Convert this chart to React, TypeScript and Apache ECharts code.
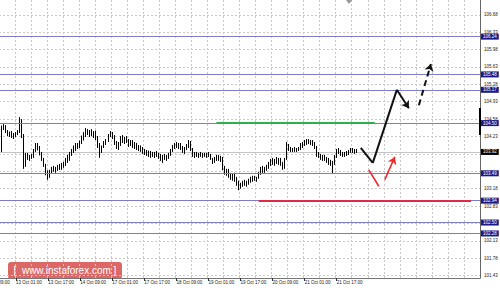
import React, { useEffect, useRef } from "react";
import * as echarts from "echarts";

// ---- data ----
const tickLabels = [
  "12 Oct 09:00", "13 Oct 01:00", "13 Oct 17:00", "14 Oct 09:00", "17 Oct 01:00", "17 Oct 17:00",
  "18 Oct 09:00", "19 Oct 01:00", "19 Oct 17:00", "20 Oct 09:00", "21 Oct 01:00", "21 Oct 17:00",
];
const yTicks = [101.43, 101.78, 102.13, 102.48, 102.83, 103.18, 103.53, 103.88, 104.23, 104.58, 104.93, 105.28, 105.63, 105.98, 106.33, 106.68];
const levelLines = [106.24, 105.48, 105.17, 104.5, 103.49, 102.94, 102.5, 102.28];
const lastPrice = 103.92;
const firstBar = 8;
const BAR_SLOTS = 248;

const opens = [
  104.00, 103.95, 104.40, 104.44, 104.32, 104.28, 104.30, 104.24, 104.26, 104.30, 104.33, 104.55, 104.25, 103.75, 103.85, 103.80, 103.84, 103.82, 103.95, 104.05,
  104.00, 103.88, 103.76, 103.65, 103.50, 103.45, 103.52, 103.58, 103.55, 103.60, 103.62, 103.60, 103.66, 103.68, 103.76, 103.82, 103.88, 103.94,
  104.00, 104.05, 104.02, 104.12, 104.20, 104.28, 104.34, 104.30, 104.32, 104.28, 104.30, 104.20, 104.05, 103.95, 104.02, 104.10, 104.15, 104.25, 104.30, 104.22,
  104.10, 104.02, 104.08, 104.20, 104.14, 104.18, 104.12, 104.10, 104.12, 104.05, 104.06, 104.00, 104.02, 103.96, 103.94, 103.90, 103.92,
  103.86, 103.88, 103.85, 103.90, 103.86, 103.82, 103.78, 103.84, 103.80, 103.84, 103.86, 103.95, 104.02, 104.06, 104.04, 104.08, 104.00, 103.94, 104.00, 104.05,
  104.10, 103.98, 103.86, 103.88, 103.86, 103.88, 103.85, 103.87, 103.86, 103.88, 103.84, 103.78, 103.72, 103.80, 103.82, 103.78, 103.80,
  103.60, 103.50, 103.54, 103.44, 103.40, 103.45, 103.36, 103.28, 103.22, 103.26, 103.30, 103.28, 103.32, 103.35, 103.38, 103.40, 103.37, 103.40, 103.50, 103.58,
  103.55, 103.60, 103.62, 103.70, 103.74, 103.70, 103.76, 103.72, 103.76, 103.68, 103.62, 103.78, 104.05, 103.98, 103.96, 103.98, 103.95, 103.97,
  104.00, 104.06, 104.10, 104.12, 104.14, 104.12, 104.14, 104.08, 104.02, 103.86, 103.84, 103.80, 103.82, 103.78, 103.74, 103.70, 103.68, 103.70, 103.84, 103.95,
  103.92, 103.88, 103.86, 103.90, 103.88, 103.94, 103.96, 103.93, 103.95,
];
const closes = [
  103.92, 104.40, 104.44, 104.32, 104.28, 104.30, 104.24, 104.26, 104.30, 104.33, 104.55, 104.25, 103.75, 103.85, 103.80, 103.84, 103.82, 103.95, 104.05, 104.00,
  103.88, 103.76, 103.65, 103.50, 103.45, 103.52, 103.58, 103.55, 103.60, 103.62, 103.60, 103.66, 103.68, 103.76, 103.82, 103.88, 103.94, 104.00,
  104.05, 104.02, 104.12, 104.20, 104.28, 104.34, 104.30, 104.32, 104.28, 104.30, 104.20, 104.05, 103.95, 104.02, 104.10, 104.15, 104.25, 104.30, 104.22, 104.10,
  104.02, 104.08, 104.20, 104.14, 104.18, 104.12, 104.10, 104.12, 104.05, 104.06, 104.00, 104.02, 103.96, 103.94, 103.90, 103.92, 103.86,
  103.88, 103.85, 103.90, 103.86, 103.82, 103.78, 103.84, 103.80, 103.84, 103.86, 103.95, 104.02, 104.06, 104.04, 104.08, 104.00, 103.94, 104.00, 104.05, 104.10,
  103.98, 103.86, 103.88, 103.86, 103.88, 103.85, 103.87, 103.86, 103.88, 103.84, 103.78, 103.72, 103.80, 103.82, 103.78, 103.80, 103.60,
  103.50, 103.54, 103.44, 103.40, 103.45, 103.36, 103.28, 103.22, 103.26, 103.30, 103.28, 103.32, 103.35, 103.38, 103.40, 103.37, 103.40, 103.50, 103.58, 103.55,
  103.60, 103.62, 103.70, 103.74, 103.70, 103.76, 103.72, 103.76, 103.68, 103.62, 103.78, 104.05, 103.98, 103.96, 103.98, 103.95, 103.97, 104.00,
  104.06, 104.10, 104.12, 104.14, 104.12, 104.14, 104.08, 104.02, 103.86, 103.84, 103.80, 103.82, 103.78, 103.74, 103.70, 103.68, 103.70, 103.84, 103.95, 103.92,
  103.88, 103.86, 103.90, 103.88, 103.94, 103.96, 103.93, 103.95, 103.92,
];
const highs = [
  104.05, 104.45, 104.48, 104.46, 104.36, 104.33, 104.34, 104.30, 104.32, 104.36, 104.62, 104.58, 104.28, 103.90, 103.90, 103.86, 103.88, 103.98, 104.10, 104.10,
  104.04, 103.92, 103.80, 103.68, 103.55, 103.56, 103.62, 103.64, 103.62, 103.66, 103.68, 103.70, 103.72, 103.80, 103.86, 103.92, 103.98, 104.05,
  104.10, 104.10, 104.15, 104.25, 104.32, 104.40, 104.38, 104.36, 104.38, 104.34, 104.35, 104.24, 104.10, 104.05, 104.14, 104.18, 104.28, 104.34, 104.32, 104.26,
  104.14, 104.12, 104.24, 104.26, 104.22, 104.24, 104.18, 104.16, 104.16, 104.12, 104.10, 104.06, 104.05, 104.02, 103.98, 103.96, 103.95,
  103.94, 103.92, 103.92, 103.94, 103.90, 103.88, 103.86, 103.88, 103.86, 103.90, 103.98, 104.06, 104.10, 104.12, 104.10, 104.10, 104.04, 104.02, 104.08, 104.16,
  104.14, 104.00, 103.92, 103.92, 103.90, 103.92, 103.90, 103.90, 103.90, 103.92, 103.88, 103.80, 103.82, 103.86, 103.86, 103.84, 103.82,
  103.64, 103.58, 103.58, 103.50, 103.48, 103.50, 103.42, 103.34, 103.30, 103.34, 103.36, 103.34, 103.38, 103.42, 103.44, 103.44, 103.42, 103.52, 103.62, 103.64,
  103.62, 103.66, 103.72, 103.78, 103.80, 103.78, 103.82, 103.80, 103.80, 103.72, 103.80, 104.12, 104.08, 104.02, 104.00, 104.02, 104.00, 104.02,
  104.10, 104.12, 104.16, 104.18, 104.18, 104.16, 104.16, 104.12, 104.04, 103.92, 103.88, 103.86, 103.86, 103.82, 103.80, 103.76, 103.74, 103.86, 103.98, 104.00,
  103.96, 103.92, 103.92, 103.94, 103.96, 104.00, 104.00, 103.98, 103.98,
];
const lows = [
  103.85, 103.92, 104.36, 104.30, 104.24, 104.22, 104.20, 104.18, 104.22, 104.26, 104.30, 104.20, 103.58, 103.62, 103.76, 103.74, 103.78, 103.80, 103.92, 103.95,
  103.85, 103.74, 103.62, 103.45, 103.36, 103.40, 103.48, 103.52, 103.50, 103.54, 103.56, 103.56, 103.60, 103.64, 103.70, 103.74, 103.84, 103.90,
  103.94, 103.98, 104.00, 104.08, 104.15, 104.22, 104.26, 104.22, 104.24, 104.20, 104.16, 104.00, 103.80, 103.90, 104.00, 104.06, 104.12, 104.22, 104.18, 104.06,
  103.98, 103.96, 104.04, 104.10, 104.08, 104.10, 104.02, 104.04, 104.00, 103.98, 103.96, 103.94, 103.92, 103.88, 103.86, 103.84, 103.82,
  103.80, 103.82, 103.80, 103.82, 103.78, 103.74, 103.70, 103.76, 103.74, 103.78, 103.84, 103.92, 103.98, 104.00, 103.98, 103.96, 103.90, 103.88, 103.96, 104.00,
  103.94, 103.82, 103.80, 103.82, 103.80, 103.82, 103.80, 103.82, 103.80, 103.82, 103.76, 103.68, 103.70, 103.74, 103.74, 103.72, 103.55,
  103.46, 103.44, 103.40, 103.36, 103.34, 103.32, 103.24, 103.15, 103.18, 103.22, 103.24, 103.22, 103.26, 103.30, 103.32, 103.34, 103.32, 103.38, 103.46, 103.50,
  103.50, 103.54, 103.58, 103.64, 103.66, 103.64, 103.68, 103.66, 103.64, 103.56, 103.58, 103.76, 103.94, 103.92, 103.92, 103.92, 103.92, 103.94,
  103.96, 104.00, 104.04, 104.06, 104.08, 104.06, 104.04, 103.98, 103.82, 103.80, 103.76, 103.74, 103.74, 103.70, 103.66, 103.64, 103.49, 103.66, 103.80, 103.88,
  103.84, 103.82, 103.82, 103.84, 103.86, 103.90, 103.90, 103.88, 103.90,
];

// annotation points: [bar slot, price]
const supportSegment = [[116, 104.5], [195, 104.5]];
const targetSegment = [[137, 102.94], [243, 102.94]];
const mainPath = [[188, 104.0], [194, 103.7], [206, 105.17]];
const pullbackArrow = [[206, 105.17], [212, 104.8]];
const continuationArrow = [[217, 104.86], [223, 105.69]];
const altDownSegment = [[192, 103.56], [197, 103.23]];
const altUpArrow = [[200, 103.36], [205, 103.82]];

const FONT = "Liberation Sans, Arial, sans-serif";

function pairs(pts: number[][]) {
  const out: any[] = [];
  for (let i = 1; i < pts.length; i++) {
    out.push([{ coord: [pts[i - 1][0], pts[i - 1][1]] }, { coord: [pts[i][0], pts[i][1]] }]);
  }
  return out;
}

function hostSeries(name: string, z: number, markLine: any) {
  return {
    name,
    type: "line",
    data: [],
    clip: false,
    silent: true,
    z,
    markLine: { silent: true, animation: false, z, ...markLine },
  };
}

export default function App() {
  const ref = useRef<HTMLDivElement>(null);
  useEffect(() => {
    document.body.style.margin = "0";
    if (!ref.current) return;
    const chart = echarts.init(ref.current, null, { renderer: "svg" });
    const categories = Array.from({ length: BAR_SLOTS }, (_, k) => String(k));
    const candles = opens.map((o, i) => [firstBar + i, o, closes[i], lows[i], highs[i]]);
    const labelInterval = (idx: number) => idx % 16 === 0 && idx / 16 < tickLabels.length;
    // a grid label sitting under a price box is hidden in the reference
    const hiddenUnderBox = (v: number) =>
      Math.abs(v - lastPrice) < 0.06 || levelLines.some((l) => Math.abs(v - l) < 0.06);

    const option: any = {
      animation: false,
      backgroundColor: "#ffffff",
      grid: { left: -17, right: 20, top: 0, bottom: 12, containLabel: false, outerBoundsMode: "none" },
      xAxis: {
        type: "category",
        data: categories,
        boundaryGap: true,
        axisLine: { show: true, lineStyle: { color: "#777", width: 1 } },
        axisTick: { show: true, alignWithLabel: true, interval: labelInterval, length: 3, lineStyle: { color: "#333" } },
        axisLabel: {
          show: true,
          interval: labelInterval,
          formatter: (_v: string, idx: number) => tickLabels[idx / 16] || "",
          align: "left",
          margin: 2,
          fontSize: 4.5,
          fontFamily: FONT,
          color: "#222",
        },
        splitLine: { show: true, interval: (idx: number) => idx % 8 === 0, lineStyle: { color: "#c8c8c8", type: [2, 2], width: 1 } },
      },
      yAxis: {
        type: "value",
        position: "right",
        min: 101.384,
        max: 106.977,
        scale: true,
        axisLine: { show: true, lineStyle: { color: "#666", width: 1 } },
        axisTick: { show: false },
        axisLabel: { show: false },
        splitLine: { show: false },
      },
      series: [
        hostSeries("grid", 1, {
          symbol: ["none", "none"],
          lineStyle: { color: "#c8c8c8", type: [2, 2], width: 1 },
          label: { show: true, position: "end", distance: 4, fontSize: 4.5, fontFamily: FONT, color: "#222" },
          data: yTicks.map((v) => ({
            yAxis: v,
            label: hiddenUnderBox(v) ? { show: false } : { formatter: v.toFixed(2) },
          })),
        }),
        hostSeries("last", 2, {
          symbol: ["none", "none"],
          lineStyle: { color: "#c4c4c4", type: "solid", width: 1 },
          label: {
            show: true, position: "end", distance: 1, fontSize: 4.5, lineHeight: 5, fontFamily: FONT,
            color: "#fff", backgroundColor: "#000", padding: [0.5, 2],
          },
          data: [{ yAxis: lastPrice, label: { formatter: lastPrice.toFixed(2) } }],
        }),
        {
          name: "USDJPY",
          type: "candlestick",
          z: 3,
          encode: { x: 0, y: [1, 2, 3, 4] },
          data: candles,
          barWidth: 1,
          itemStyle: { color: "#ffffff", color0: "#000000", borderColor: "#000000", borderColor0: "#000000", borderWidth: 1 },
        },
        hostSeries("levels", 4, {
          symbol: ["none", "none"],
          lineStyle: { color: "#7c7cca", type: "solid", width: 1 },
          label: {
            show: true, position: "end", distance: 1, fontSize: 4.5, lineHeight: 5, fontFamily: FONT,
            color: "#fff", backgroundColor: "#1a1a86", padding: [0.5, 2],
          },
          data: levelLines.map((v) => ({ yAxis: v, label: { formatter: v.toFixed(2) } })),
        }),
        hostSeries("support", 5, {
          symbol: ["none", "none"],
          lineStyle: { color: "#2fae4e", type: "solid", width: 2 },
          label: { show: false },
          data: pairs(supportSegment),
        }),
        hostSeries("target", 5, {
          symbol: ["none", "none"],
          lineStyle: { color: "#e02a45", type: "solid", width: 2 },
          label: { show: false },
          data: pairs(targetSegment),
        }),
        hostSeries("main", 6, {
          symbol: ["none", "none"],
          lineStyle: { color: "#111", type: "solid", width: 2 },
          label: { show: false },
          data: pairs(mainPath),
        }),
        hostSeries("pullback", 6, {
          symbol: ["none", "arrow"],
          symbolSize: 7,
          lineStyle: { color: "#111", type: "solid", width: 2 },
          label: { show: false },
          data: pairs(pullbackArrow),
        }),
        hostSeries("continuation", 6, {
          symbol: ["none", "arrow"],
          symbolSize: 7,
          lineStyle: { color: "#111", type: [6, 4], width: 2 },
          label: { show: false },
          data: pairs(continuationArrow),
        }),
        hostSeries("altDown", 6, {
          symbol: ["none", "none"],
          lineStyle: { color: "#ee2a2a", type: "solid", width: 1.6 },
          label: { show: false },
          data: pairs(altDownSegment),
        }),
        hostSeries("altUp", 6, {
          symbol: ["none", "arrow"],
          symbolSize: 7,
          lineStyle: { color: "#ee2a2a", type: "solid", width: 1.6 },
          label: { show: false },
          data: pairs(altUpArrow),
        }),
      ],
      graphic: [
        { type: "rect", left: 479, top: 108, shape: { width: 2, height: 27 }, style: { fill: "#000" }, z: 50 },
        { type: "polygon", shape: { points: [[346, 0], [352, 0], [349, 4]] }, style: { fill: "#999" }, z: 50 },
        {
          type: "group",
          left: 8,
          top: 262,
          z: 60,
          children: [
            { type: "rect", shape: { x: 0, y: 0, width: 114, height: 17, r: 3 }, style: { fill: "rgba(212,70,70,0.82)" } },
            {
              type: "text",
              x: 57,
              y: 8.5,
              style: { text: "[  www.instaforex.com ]", fill: "#ffffff", fontSize: 10, fontFamily: FONT, align: "center", verticalAlign: "middle" },
            },
          ],
        },
      ],
    };
    chart.setOption(option);
    return () => chart.dispose();
  }, []);
  return <div ref={ref} style={{ width: 500, height: 290 }} />;
}
